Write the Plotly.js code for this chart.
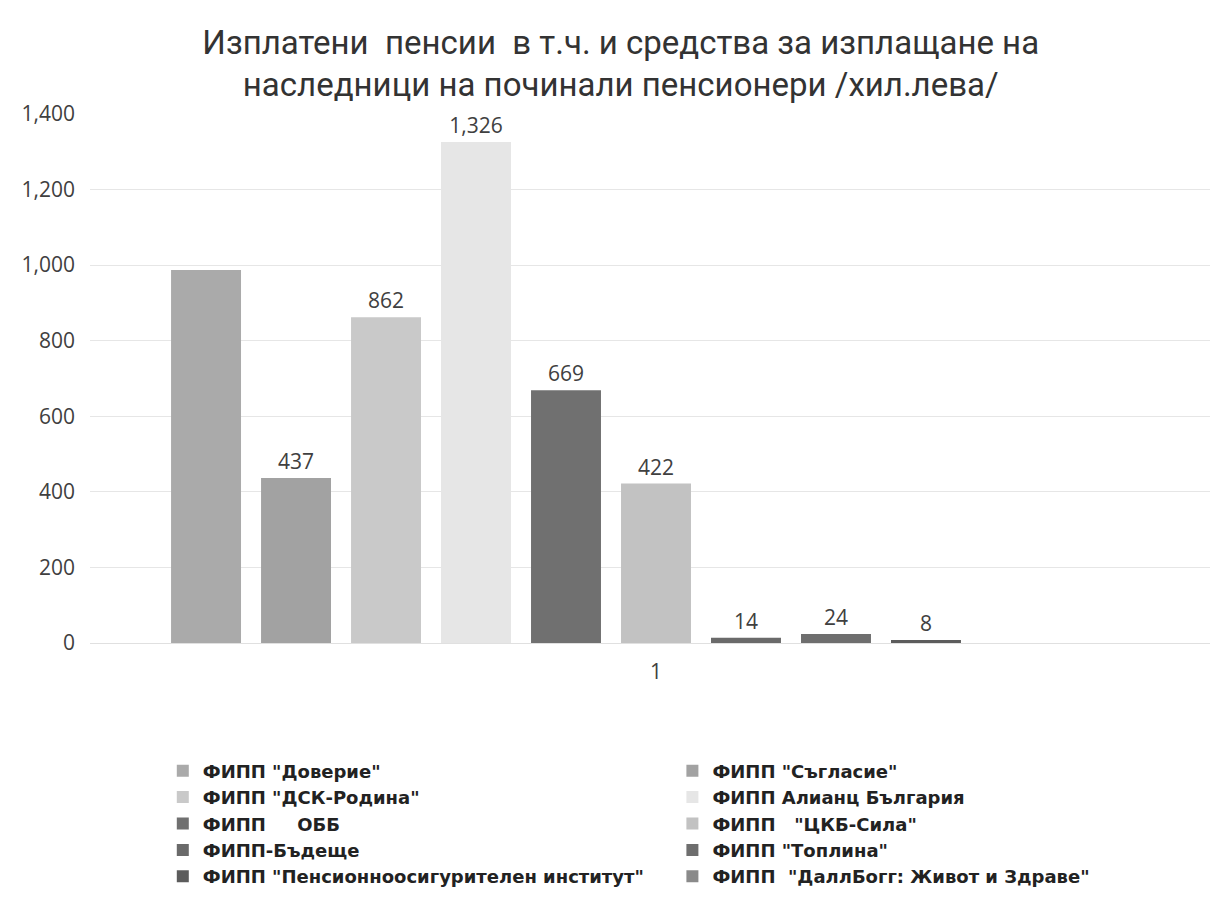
<!DOCTYPE html>
<html>
<head>
<meta charset="utf-8">
<script src="https://cdn.plot.ly/plotly-3.0.1.min.js"></script>
<style>html,body{margin:0;padding:0;background:#fff;}#chart{width:1210px;height:923px;}</style>
</head>
<body>
<div id="chart"></div>
<script>
// ---- data ----
const categories = ["1"];
const seriesNames = [
  'ФИПП "Доверие"',
  'ФИПП "Съгласие"',
  'ФИПП "ДСК-Родина"',
  'ФИПП Алианц България',
  'ФИПП     ОББ',
  'ФИПП   "ЦКБ-Сила"',
  'ФИПП-Бъдеще',
  'ФИПП "Топлина"',
  'ФИПП "Пенсионноосигурителен институт"',
  'ФИПП  "ДаллБогг: Живот и Здраве"'
];
const seriesValues = [987, 437, 862, 1326, 669, 422, 14, 24, 8, null];
const valueLabels = ["", "437", "862", "1,326", "669", "422", "14", "24", "8", ""];
const yTickValues = [0, 200, 400, 600, 800, 1000, 1200, 1400];
const yTickLabels = ["0", "200", "400", "600", "800", "1,000", "1,200", "1,400"];

// ---- styles ----
const colors = ['#aaaaaa', '#a2a2a2', '#c9c9c9', '#e6e6e6', '#707070', '#c2c2c2', '#6a6a6a', '#6e6e6e', '#5c5c5c', '#8a8a8a'];
const slots = 11;          // slots in the group
const pitch = 0.0795;      // slot width (axis units)
const barW = 0.0618;       // bar width (axis units)

const traces = seriesNames.map((name, i) => ({
  type: 'bar',
  name: name,
  legend: i % 2 === 0 ? 'legend' : 'legend2',
  x: categories,
  y: [seriesValues[i]],
  text: [valueLabels[i]],
  textposition: 'outside',
  textfont: {family: 'Open Sans', size: 21, color: '#404040'},
  cliponaxis: false,
  offset: (i - (slots - 1) / 2) * pitch - barW / 2,
  width: barW,
  marker: {color: colors[i], opacity: 1, line: {width: 0}},
  hoverinfo: 'name+y'
}));

const legendFont = {family: 'DejaVu Sans', size: 18, color: '#222222', weight: 'bold'};

const layout = {
  width: 1210,
  height: 923,
  autosize: false,
  paper_bgcolor: '#ffffff',
  plot_bgcolor: '#ffffff',
  margin: {l: 90, r: 0, t: 114, b: 280, autoexpand: false},
  barmode: 'overlay',
  showlegend: true,
  title: {
    text: 'Изплатени  пенсии  в т.ч. и средства за изплащане на<br>наследници на починали пенсионери /хил.лева/',
    font: {family: 'Roboto', size: 33, color: '#333333'},
    x: 0.513, xanchor: 'center', xref: 'container',
    y: 0.942, yanchor: 'top', yref: 'container'
  },
  xaxis: {
    type: 'category',
    range: [-0.5, 0.4894],
    autorange: false,
    showgrid: false,
    zeroline: false,
    showline: false,
    ticks: '',
    ticklabelstandoff: 14,
    tickfont: {family: 'Open Sans', size: 21, color: '#404040'},
    fixedrange: true
  },
  yaxis: {
    range: [0, 1400],
    autorange: false,
    tickvals: yTickValues,
    ticktext: yTickLabels,
    showgrid: true,
    gridcolor: '#e6e6e6',
    gridwidth: 1,
    zeroline: true,
    zerolinecolor: '#e0e0e0',
    showline: false,
    ticks: '',
    ticklabelstandoff: 14,
    tickfont: {family: 'Open Sans', size: 21, color: '#404040'},
    fixedrange: true
  },
  legend: {
    orientation: 'v',
    x: 0.065, xanchor: 'left',
    y: -0.207, yanchor: 'top',
    font: legendFont,
    itemwidth: 30,
    traceorder: 'normal',
    bgcolor: 'rgba(0,0,0,0)'
  },
  legend2: {
    orientation: 'v',
    x: 0.52, xanchor: 'left',
    y: -0.207, yanchor: 'top',
    font: legendFont,
    itemwidth: 30,
    traceorder: 'normal',
    bgcolor: 'rgba(0,0,0,0)'
  }
};

Plotly.newPlot('chart', traces, layout, {displayModeBar: false, staticPlot: true});
</script>
</body>
</html>
